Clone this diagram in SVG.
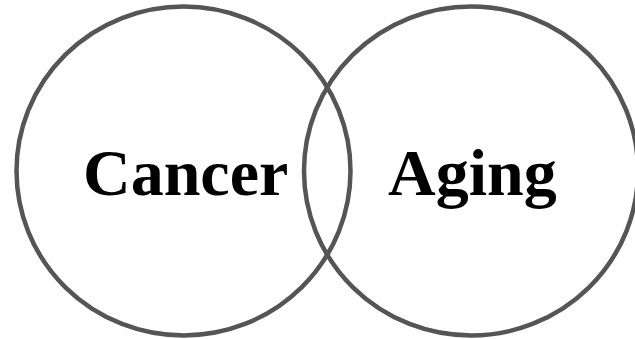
<svg xmlns="http://www.w3.org/2000/svg" width="635" height="339" viewBox="0 0 635 339">
<style>
.ring{fill:none;stroke:#555;stroke-width:4.5}
.lbl{font-family:"Liberation Serif","Times New Roman",serif;font-weight:bold;font-size:66px;fill:#000}
</style>
<rect width="635" height="339" fill="#fff"/>
<g id="cancer">
<ellipse class="ring" cx="183.5" cy="171" rx="167" ry="164.5"/>
<text class="lbl" x="83" y="195">Cancer</text>
</g>
<g id="aging">
<ellipse class="ring" cx="471" cy="171" rx="167" ry="164.5"/>
<text class="lbl" x="388" y="195">Aging</text>
</g>
<g id="connectors"/>
</svg>
